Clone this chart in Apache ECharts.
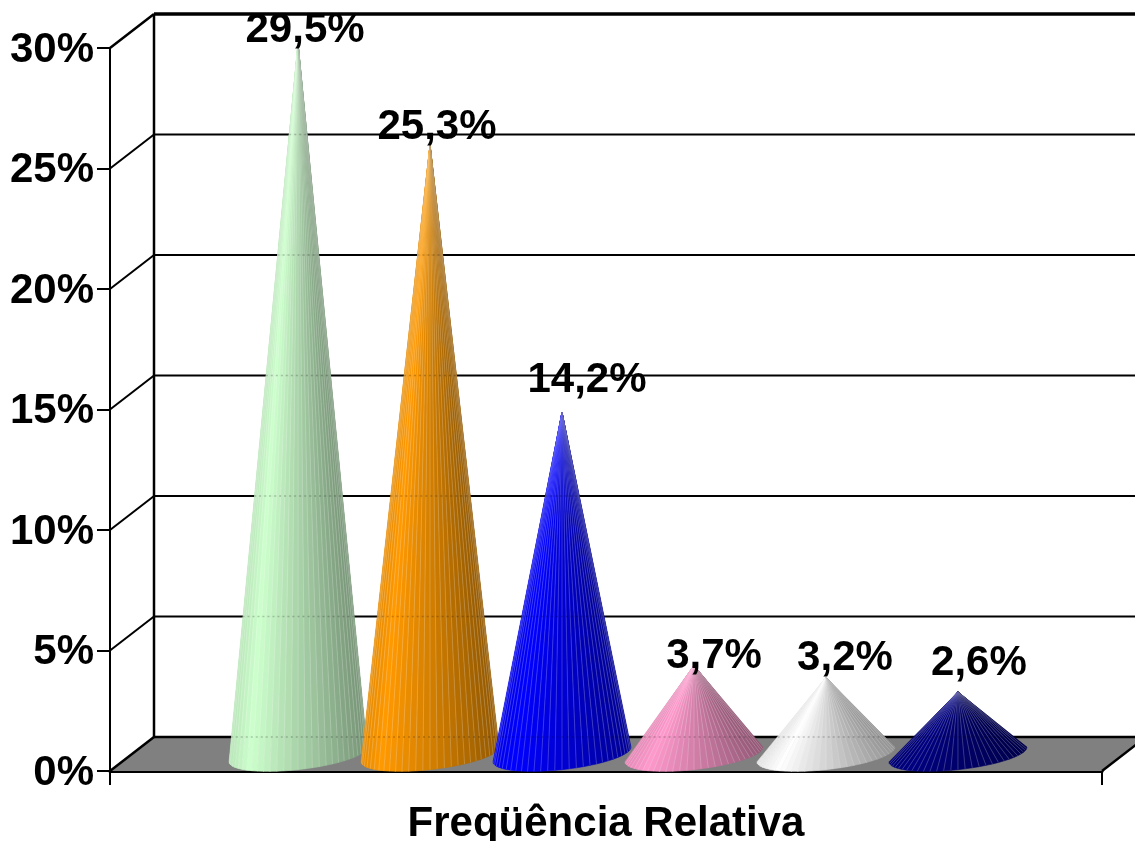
<!DOCTYPE html>
<html>
<head>
<meta charset="utf-8">
<style>html,body{margin:0;padding:0;background:#fff}#c{width:1135px;height:841px}</style>
<script src="https://cdn.jsdelivr.net/npm/echarts@6/dist/echarts.min.js"></script>
</head>
<body>
<div id="c"></div>
<script>
// Data
var categories = ['Freqüência Relativa'];
var values = [29.5, 25.3, 14.2, 3.7, 3.2, 2.6];
var tickValues = [0, 5, 10, 15, 20, 25, 30];

// Styles and layout (not data)
var coneColors = ['#CCFFCC', '#FF9900', '#0000FF', '#FF99CC', '#FFFFFF', '#000080'];
var labelShift = [[7, -13], [7, -17], [25, -31], [20, -8], [19, -18], [21, -28]];
var FONT = 'bold 42px "Liberation Sans", Arial, sans-serif';
var DX = 44, DY = 34;          // oblique depth of the 3D box
var WEDGES = 30;

function rgb(hex) { return [1, 3, 5].map(function (i) { return parseInt(hex.substr(i, 2), 16); }); }
function shade(c, f) { return 'rgb(' + c.map(function (v) { return Math.round(v * f); }).join(',') + ')'; }
function tint(c, f, w) { return 'rgb(' + c.map(function (v) { return Math.round(v * f + (255 - v * f) * w); }).join(',') + ')'; }
function light(u) { return u < -0.7 ? 0.9 + (u + 1) / 0.3 * 0.1 : 1 - (u + 0.7) / 1.7 * 0.42; }

function renderCone(params, api) {
  var i = api.value(0), v = api.value(1);
  var base = api.coord([i, 0]), top = api.coord([i, v]);
  var cx = base[0] + DX / 2, cy = base[1] - DY / 2 + 0.5;
  var tip = [cx, top[1] - DY / 2 + 0.5];
  var a = api.size([1.045, 0])[0] / 2, A = a * 0.22, B = -a * 0.107;
  var c = rgb(coneColors[i]);
  var kids = [];
  function P(t) { return [cx + a * Math.cos(t), cy + A * Math.sin(t) + B * Math.cos(t)]; }
  for (var k = 0; k < WEDGES; k++) {
    var t0 = Math.PI * (1 - k / WEDGES), t1 = Math.PI * (1 - (k + 1) / WEDGES);
    var col = shade(c, light(Math.cos((t0 + t1) / 2)));
    kids.push({ type: 'polygon', shape: { points: [tip, P(t0), P(t1)] }, style: { fill: col, stroke: col, lineWidth: 0.6 } });
  }
  for (k = 1; k < WEDGES; k++) {
    var t = Math.PI * (1 - k / WEDGES), p = P(t);
    kids.push({ type: 'line', shape: { x1: tip[0], y1: tip[1], x2: p[0], y2: p[1] },
      style: { stroke: tint(c, light(Math.cos(t)), 0.4), lineWidth: 0.8, opacity: 0.65 } });
  }
  // back-wall gridlines faintly visible through the cone
  tickValues.forEach(function (g) {
    var y = api.coord([i, g])[1] - DY;
    if (y <= tip[1] || y >= cy) return;
    var w = a * (y - tip[1]) / (cy - tip[1]);
    kids.push({ type: 'line', shape: { x1: cx - w, y1: y, x2: cx + w, y2: y },
      style: { stroke: '#000', lineWidth: 1.5, opacity: 0.2, lineDash: [2, 3] } });
  });
  return { type: 'group', children: kids };
}

function renderLabel(params, api) {
  var i = api.value(0), v = api.value(1);
  var top = api.coord([i, v]);
  var s = labelShift[i];
  return { type: 'text', style: {
    text: v.toFixed(1).replace('.', ',') + '%',
    x: top[0] + DX / 2 + s[0], y: top[1] - DY / 2 + s[1],
    font: FONT, fill: '#000', align: 'center', verticalAlign: 'middle' } };
}

function renderTickLabel(params, api) {
  var g = api.value(1);
  var p = api.coord([api.value(0), g]);
  return { type: 'text', style: {
    text: g + '%', x: p[0] - 16, y: p[1] + 2,
    font: FONT, fill: '#000', align: 'right', verticalAlign: 'middle' } };
}

function renderFloor(params, api) {
  var l = api.coord([api.value(0), 0]), r = api.coord([api.value(1), 0]);
  return { type: 'polygon', shape: { points: [l, [l[0] + DX, l[1] - DY], [r[0] + DX, r[1] - DY], r] },
    style: { fill: '#808080' } };
}

function renderWall(params, api) {
  var g = api.value(2);
  var l = api.coord([api.value(0), g]), r = api.coord([api.value(1), g]);
  var bx = l[0] + DX, by = l[1] - DY;
  var lw = g === 30 ? 3.5 : (g === 0 ? 2.5 : 2);
  var kids = [
    { type: 'line', shape: { x1: l[0], y1: l[1], x2: bx, y2: by }, style: { stroke: '#000', lineWidth: g === 0 || g === 30 ? 2.5 : 2 } },
    { type: 'line', shape: { x1: bx, y1: by, x2: r[0] + DX, y2: by }, style: { stroke: '#000', lineWidth: lw } }
  ];
  if (g === 0) {
    kids.push({ type: 'line', shape: { x1: r[0], y1: r[1], x2: r[0] + DX, y2: by }, style: { stroke: '#000', lineWidth: 2.5 } });
    var t = api.coord([api.value(0), 30]);
    kids.push({ type: 'line', shape: { x1: bx, y1: by, x2: bx, y2: t[1] - DY }, style: { stroke: '#000', lineWidth: 2.5 } });
  }
  return { type: 'group', children: kids };
}

var pts = values.map(function (v, i) { return [i, v]; });
var xMin = -1.258, xMax = 6.258;

var chart = echarts.init(document.getElementById('c'), null, { renderer: 'canvas' });
chart.setOption({
  animation: false,
  backgroundColor: '#fff',
  grid: { left: 110, right: 33, top: 48, bottom: 70, containLabel: false, outerBoundsMode: 'none' },
  xAxis: [
    { type: 'category', data: categories, boundaryGap: true,
      axisLine: { show: true, lineStyle: { color: '#000', width: 3 } },
      axisTick: { show: true, length: 14, lineStyle: { color: '#000', width: 2 } },
      axisLabel: { show: true, color: '#000', fontFamily: '"Liberation Sans", Arial, sans-serif', fontWeight: 'bold', fontSize: 42, margin: 32 },
      splitLine: { show: false } },
    { type: 'value', show: false, min: xMin, max: xMax, splitLine: { show: false } }
  ],
  yAxis: { type: 'value', min: 0, max: 30, interval: 5,
    axisLine: { show: true, onZero: false, lineStyle: { color: '#000', width: 2 } },
    axisTick: { show: true, length: 13, lineStyle: { color: '#000', width: 2 } },
    axisLabel: { show: false },
    splitLine: { show: false } },
  series: [
    { type: 'custom', xAxisIndex: 1, z: 1, silent: true, renderItem: renderFloor, data: [[xMin, xMax]] },
    { type: 'custom', xAxisIndex: 1, z: 2, silent: true, renderItem: renderWall,
      data: tickValues.map(function (g) { return [xMin, xMax, g]; }) },
    { type: 'custom', xAxisIndex: 1, z: 3, silent: true, renderItem: renderCone, data: pts },
    { type: 'custom', xAxisIndex: 1, z: 5, silent: true, renderItem: renderLabel, data: pts },
    { type: 'custom', xAxisIndex: 1, z: 5, silent: true, renderItem: renderTickLabel,
      data: tickValues.map(function (g) { return [xMin, g]; }) }
  ]
});
</script>
</body>
</html>
